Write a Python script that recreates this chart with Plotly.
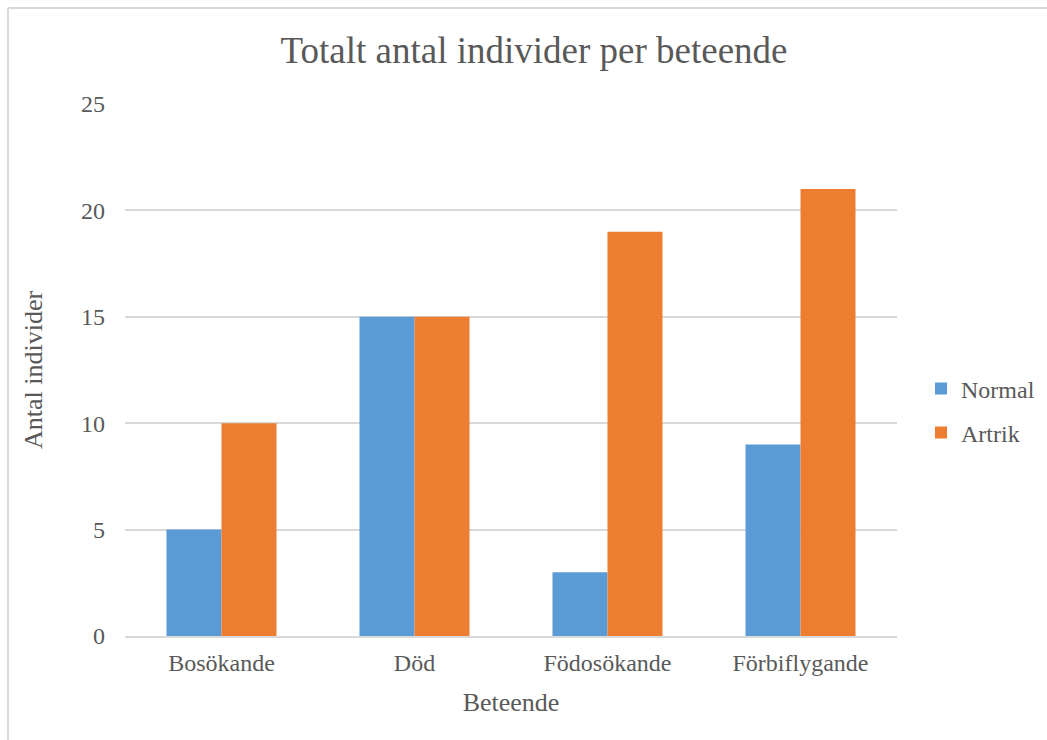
import plotly.graph_objects as go

categories = ["Bosökande", "Död", "Födosökande", "Förbiflygande"]
normal = [5, 15, 3, 9]
artrik = [10, 15, 19, 21]
y_ticks = [0, 5, 10, 15, 20, 25]

FONT = "Liberation Serif, Times New Roman, serif"
TXT = "#595959"
GRID = "#d9d9d9"

W, H = 1047, 740
L, R, T, B = 125, 150, 104, 104
pw, ph = W - L - R, H - T - B


def px_x(x):
    return (x - L) / pw


def px_y(y):
    return (H - B - y) / ph


fig = go.Figure()
fig.add_trace(go.Bar(x=categories, y=normal, name="Normal", marker_color="#5b9bd5",
                     marker_line_width=0, legend="legend", showlegend=True))
fig.add_trace(go.Bar(x=categories, y=artrik, name="Artrik", marker_color="#ed7d31",
                     marker_line_width=0, legend="legend2", showlegend=True))

legend_common = dict(
    font=dict(family=FONT, size=24, color=TXT),
    bgcolor="rgba(0,0,0,0)",
    xanchor="left", yanchor="middle",
    itemwidth=30,
)

fig.update_layout(
    width=W, height=H,
    margin=dict(l=L, r=R, t=T, b=B, autoexpand=False),
    paper_bgcolor="white", plot_bgcolor="white",
    barmode="group", bargap=0.43, bargroupgap=0,
    font=dict(family=FONT, color=TXT, size=24),
    showlegend=True,
    title=dict(text="Totalt antal individer per beteende", x=534 / W, xanchor="center",
               y=1 - 50 / H, yanchor="middle", xref="container", yref="container",
               font=dict(family=FONT, size=37, color=TXT)),
    xaxis=dict(showgrid=False, showline=True, linecolor=GRID, linewidth=2,
               ticks="", tickfont=dict(size=24, color=TXT), ticklabelstandoff=4,
               title=dict(text="Beteende", font=dict(size=26, color=TXT), standoff=18)),
    yaxis=dict(range=[0, 25], tickvals=y_ticks, showgrid=True, gridcolor=GRID,
               gridwidth=2, zeroline=False, showline=False, ticks="",
               ticklabelstandoff=19,
               tickfont=dict(size=24, color=TXT),
               title=dict(text="Antal individer", font=dict(size=26, color=TXT), standoff=30)),
    legend=dict(x=px_x(921), y=px_y(389), **legend_common),
    legend2=dict(x=px_x(921), y=px_y(433), **legend_common),
    shapes=[
        dict(type="line", xref="paper", yref="paper", x0=px_x(8), x1=px_x(W + 5),
             y0=px_y(8), y1=px_y(8), line=dict(color=GRID, width=2)),
        dict(type="line", xref="paper", yref="paper", x0=px_x(8), x1=px_x(8),
             y0=px_y(8), y1=px_y(H + 5), line=dict(color=GRID, width=2)),
    ],
)

fig.write_html("out.html")
